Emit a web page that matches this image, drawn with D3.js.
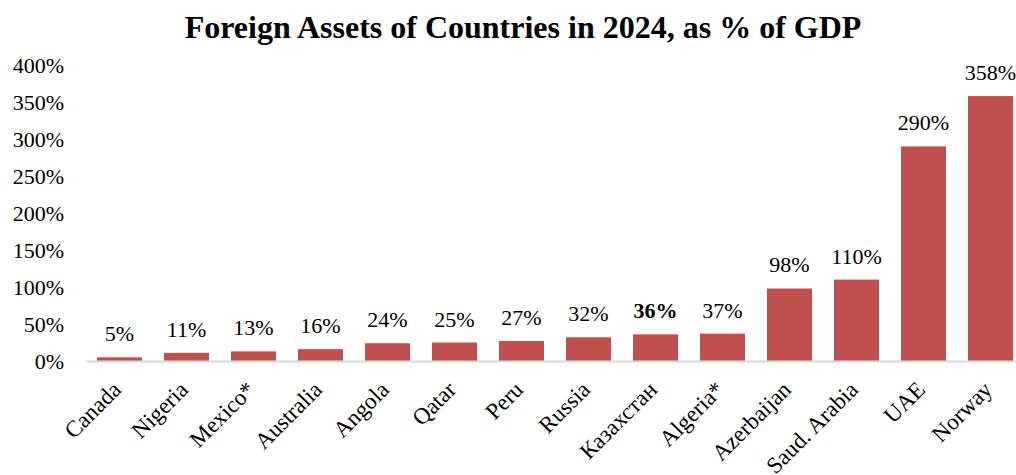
<!DOCTYPE html>
<html>
<head>
<meta charset="utf-8">
<script src="https://cdn.jsdelivr.net/npm/d3@7"></script>
<style>
  html, body { margin: 0; padding: 0; background: #fff; }
  svg { display: block; }
  svg text { font-family: "Liberation Serif", "Times New Roman", serif; fill: #000; }
</style>
</head>
<body>
<svg id="chart" width="1016" height="475"></svg>
<script>
// Foreign assets by country, share of GDP (%)
const countries = ["Canada", "Nigeria", "Mexico*", "Australia", "Angola", "Qatar", "Peru",
  "Russia", "Казахстан", "Algeria*", "Azerbaijan", "Saud. Arabia", "UAE", "Norway"];
const assetsPct = [5, 11, 13, 16, 24, 25, 27, 32, 36, 37, 98, 110, 290, 358];
const highlighted = ["Казахстан"];
const yTicks = [0, 50, 100, 150, 200, 250, 300, 350, 400];
const chartTitle = "Foreign Assets of Countries in 2024, as % of GDP";

const svg = d3.select("#chart");
const W = 1016;
const serif = '"Liberation Serif", "Times New Roman", serif';

const x = d3.scaleBand()
  .domain(countries)
  .range([86, 1024])
  .paddingInner(0.328)
  .paddingOuter(0.164);

const y = d3.scaleLinear()
  .domain([0, 400])
  .range([361, 65]);

// title
svg.append("text")
  .attr("x", 523)
  .attr("y", 38)
  .attr("text-anchor", "middle")
  .style("font-family", serif)
  .style("font-weight", "bold")
  .style("font-size", "32px")
  .text(chartTitle);

// y axis labels (no axis line, no ticks)
const yAxis = svg.append("g")
  .attr("transform", "translate(64,0)")
  .call(d3.axisLeft(y).tickValues(yTicks).tickFormat(d => d + "%").tickSize(0).tickPadding(0));
yAxis.select(".domain").remove();
yAxis.selectAll("text")
  .style("font-family", serif)
  .style("font-size", "22px")
  .attr("fill", "#000")
  .attr("dy", "0.35em");

// bars
svg.append("g")
  .selectAll("rect")
  .data(countries)
  .join("rect")
  .attr("x", d => x(d))
  .attr("width", x.bandwidth())
  .attr("y", (d, i) => y(assetsPct[i]))
  .attr("height", (d, i) => y(0) - y(assetsPct[i]))
  .attr("fill", "#C0504D");

// baseline
svg.append("line")
  .attr("x1", 86).attr("x2", W)
  .attr("y1", y(0) + 0.5).attr("y2", y(0) + 0.5)
  .attr("stroke", "#d9d9d9")
  .attr("stroke-width", 2);

// value labels
svg.append("g")
  .selectAll("text")
  .data(countries)
  .join("text")
  .attr("x", d => x(d) + x.bandwidth() / 2)
  .attr("y", (d, i) => y(assetsPct[i]) - 16)
  .attr("text-anchor", "middle")
  .style("font-family", serif)
  .style("font-size", "22px")
  .style("font-weight", d => highlighted.includes(d) ? "bold" : "normal")
  .text((d, i) => assetsPct[i] + "%");

// category labels, rotated
const xAxis = svg.append("g")
  .attr("transform", `translate(0,${y(0)})`)
  .call(d3.axisBottom(x).tickSize(0).tickPadding(0));
xAxis.select(".domain").remove();
xAxis.selectAll("text")
  .style("font-family", serif)
  .style("font-size", "23px")
  .attr("fill", "#000")
  .attr("text-anchor", "end")
  .attr("y", 0)
  .attr("dy", 0)
  .attr("transform", "translate(3,30) rotate(-45)");
</script>
</body>
</html>
